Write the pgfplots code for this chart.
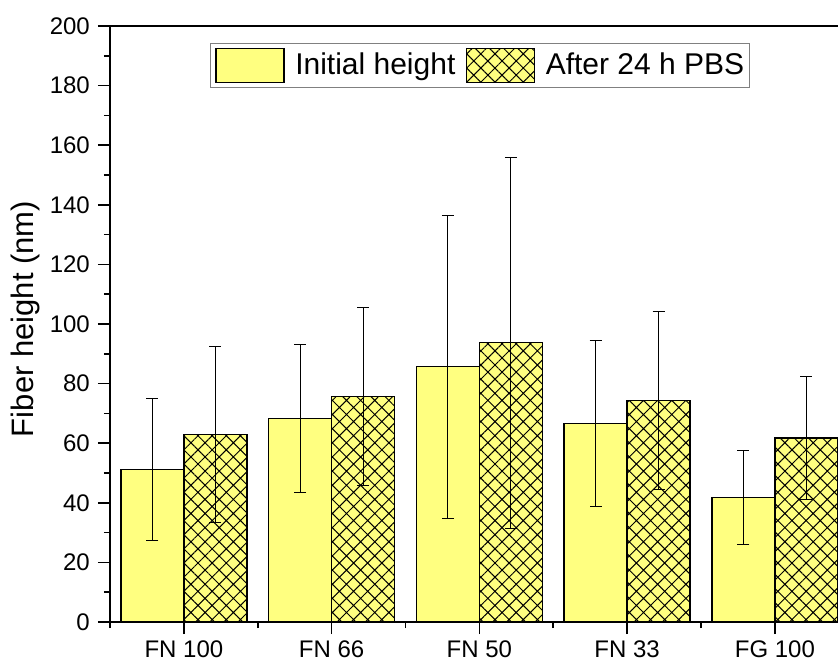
\documentclass[border=0pt]{standalone}
\usepackage{fontspec}
\setmainfont{Liberation Sans}
\usepackage{pgfplots}
\pgfplotsset{compat=1.18}
\usetikzlibrary{patterns.meta}
\definecolor{baryellow}{RGB}{255,255,128}

\pgfplotstableread{
x y e
0 51.2 23.9
1 68.2 24.8
2 85.7 50.8
3 66.7 27.9
4 41.7 15.7
}\initialdata
\pgfplotstableread{
x y e
0 63.0 29.6
1 75.6 29.8
2 93.7 62.2
3 74.3 29.8
4 61.7 20.6
}\afterdata

\begin{document}
\begin{tikzpicture}
\useasboundingbox (0,0) rectangle (838pt,662pt);
\begin{axis}[
  at={(110pt,40pt)}, anchor=south west,
  scale only axis, width=738.75pt, height=596pt,
  xmin=-0.5, xmax=4.5, ymin=0, ymax=200,
  ybar=0pt, bar width=0.4264,
  xtick={0,1,2,3,4},
  xticklabels={FN 100, FN 66, FN 50, FN 33, FG 100},
  minor xtick={-0.5,0.5,1.5,2.5,3.5,4.5},
  ytick={0,20,...,200},
  minor ytick={10,30,...,190},
  tick pos=left, tick align=outside,
  major tick length=12pt, minor tick length=6pt,
  tick style={black, line width=1.6pt},
  axis line style={line width=1.8pt},
  /pgf/number format/assume math mode=true,
  ticklabel style={font=\fontsize{24}{28}\selectfont, inner sep=0pt},
  xticklabel style={anchor=north, yshift=-7pt},
  yticklabel style={anchor=east, xshift=-8pt},
  legend style={at={(0.13536,0.97148)}, anchor=north west,
    draw=gray, line width=0.8pt, inner xsep=5pt, inner ysep=4.5pt,
    font=\fontsize{30}{34}\selectfont,
    nodes={inner sep=0pt},
    cells={anchor=base west},
    /tikz/column sep=10.5pt},
  legend columns=2,
  legend image code/.code={\draw[#1] (0pt,-8pt) rectangle (68pt,26pt);},
]
\addplot[fill=baryellow, draw=black, line width=1.4pt, bar shift=-0.2132,
  error bars/.cd, y dir=both, y explicit,
  error bar style={line width=0.9pt, black},
  error mark options={rotate=90, mark size=6pt, line width=0.9pt, black}]
  table[x=x, y=y, y error=e] {\initialdata};
\addlegendentry{Initial height}
\addplot[fill=baryellow, draw=black, line width=1.4pt, bar shift=0.2132,
  postaction={pattern={Hatch[angle=45, distance=10pt, line width=1pt]}, pattern color=black},
  error bars/.cd, y dir=both, y explicit,
  error bar style={line width=0.9pt, black},
  error mark options={rotate=90, mark size=6pt, line width=0.9pt, black}]
  table[x=x, y=y, y error=e] {\afterdata};
\addlegendentry{After 24 h PBS}
\end{axis}
\node[rotate=90, anchor=base, inner sep=0pt, font=\fontsize{31}{36}\selectfont] at (33pt,343pt) {Fiber height (nm)};
\end{tikzpicture}
\end{document}
